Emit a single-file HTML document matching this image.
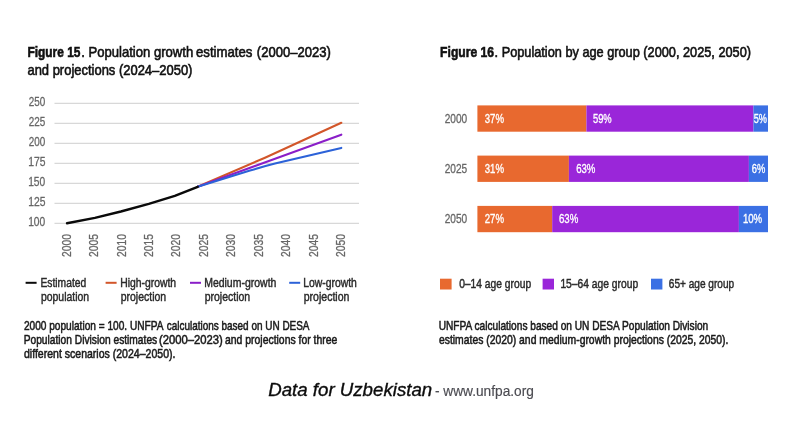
<!DOCTYPE html>
<html lang="en"><head><meta charset="utf-8"><title>Data for Uzbekistan</title>
<style>html,body{margin:0;padding:0;background:#fff}body{width:802px;height:422px;overflow:hidden}svg{display:block}text{font-family:"Liberation Sans",sans-serif}.t{font-size:14.4px;fill:#111;stroke:#111;stroke-width:.6px}.b{font-weight:700}.n{font-size:12.7px;fill:#1a1a1a;stroke:#1a1a1a;stroke-width:.55px}.l{font-size:12.7px;fill:#2a2a2a;stroke:#2a2a2a;stroke-width:.45px}.a{font-size:12.5px;fill:#666;stroke:#666;stroke-width:.3px}.w{font-size:12.6px;fill:#fff;stroke:#fff;stroke-width:.35px}.c1{font-size:18.4px;font-style:italic;fill:#0c0c0c;stroke:#0c0c0c;stroke-width:.35px}.c2{font-size:13.8px;fill:#4c4c52;stroke:#4c4c52;stroke-width:.15px}</style></head><body>
<svg width="802" height="422" viewBox="0 0 802 422">
<rect width="802" height="422" fill="#fff"/>
<line x1="54.5" x2="359" y1="103.4" y2="103.4" stroke="#d8d8d8" stroke-width="1.2"/>
<line x1="54.5" x2="359" y1="123.4" y2="123.4" stroke="#d8d8d8" stroke-width="1.2"/>
<line x1="54.5" x2="359" y1="143.4" y2="143.4" stroke="#d8d8d8" stroke-width="1.2"/>
<line x1="54.5" x2="359" y1="163.4" y2="163.4" stroke="#d8d8d8" stroke-width="1.2"/>
<line x1="54.5" x2="359" y1="183.4" y2="183.4" stroke="#d8d8d8" stroke-width="1.2"/>
<line x1="54.5" x2="359" y1="203.4" y2="203.4" stroke="#d8d8d8" stroke-width="1.2"/>
<line x1="54.5" x2="359" y1="223.4" y2="223.4" stroke="#d8d8d8" stroke-width="1.2"/>
<text class="a" textLength="22.9" lengthAdjust="spacingAndGlyphs" transform="translate(70.60,257) rotate(-90)">2000</text>
<text class="a" textLength="22.9" lengthAdjust="spacingAndGlyphs" transform="translate(98.06,257) rotate(-90)">2005</text>
<text class="a" textLength="22.9" lengthAdjust="spacingAndGlyphs" transform="translate(125.52,257) rotate(-90)">2010</text>
<text class="a" textLength="22.9" lengthAdjust="spacingAndGlyphs" transform="translate(152.98,257) rotate(-90)">2015</text>
<text class="a" textLength="22.9" lengthAdjust="spacingAndGlyphs" transform="translate(180.44,257) rotate(-90)">2020</text>
<text class="a" textLength="22.9" lengthAdjust="spacingAndGlyphs" transform="translate(207.90,257) rotate(-90)">2025</text>
<text class="a" textLength="22.9" lengthAdjust="spacingAndGlyphs" transform="translate(235.36,257) rotate(-90)">2030</text>
<text class="a" textLength="22.9" lengthAdjust="spacingAndGlyphs" transform="translate(262.82,257) rotate(-90)">2035</text>
<text class="a" textLength="22.9" lengthAdjust="spacingAndGlyphs" transform="translate(290.28,257) rotate(-90)">2040</text>
<text class="a" textLength="22.9" lengthAdjust="spacingAndGlyphs" transform="translate(317.74,257) rotate(-90)">2045</text>
<text class="a" textLength="22.9" lengthAdjust="spacingAndGlyphs" transform="translate(345.20,257) rotate(-90)">2050</text>
<path d="M197.7 186.8 L265 157.7 L341.3 122.8" stroke="#d2562a" fill="none" stroke-width="2.1" stroke-linecap="round" stroke-linejoin="round"/>
<path d="M197.7 186.8 L341.3 134.7" stroke="#8a1ec8" fill="none" stroke-width="2.1" stroke-linecap="round" stroke-linejoin="round"/>
<path d="M197.7 186.8 L250 170.6 Q262 166.9 275 163.6 L341.3 147.9" stroke="#2c62d8" fill="none" stroke-width="2.1" stroke-linecap="round" stroke-linejoin="round"/>
<path d="M67 223.3 L94.9 217.9 L120.9 211.5 L148.8 203.9 L174.8 195.9 L197.7 186.8" fill="none" stroke="#0a0a0a" stroke-width="2.4" stroke-linecap="round" stroke-linejoin="round"/>
<line x1="25.6" x2="36.6" y1="282.8" y2="282.8" stroke="#0a0a0a" stroke-width="2"/>
<line x1="105.6" x2="116.6" y1="282.8" y2="282.8" stroke="#d2562a" stroke-width="2"/>
<line x1="190" x2="201" y1="282.8" y2="282.8" stroke="#8a1ec8" stroke-width="2"/>
<line x1="289.2" x2="300.2" y1="282.8" y2="282.8" stroke="#2c62d8" stroke-width="2"/>
<rect x="477.4" y="105.4" width="109.0" height="26.3" fill="#e8692f"/>
<rect x="586.4" y="105.4" width="167.0" height="26.3" fill="#9a26d9"/>
<rect x="753.4" y="105.4" width="14.6" height="26.3" fill="#3b70e4"/>
<rect x="477.4" y="155.6" width="91.5" height="26.3" fill="#e8692f"/>
<rect x="568.9" y="155.6" width="180.0" height="26.3" fill="#9a26d9"/>
<rect x="748.9" y="155.6" width="19.1" height="26.3" fill="#3b70e4"/>
<rect x="477.4" y="205.9" width="74.8" height="26.3" fill="#e8692f"/>
<rect x="552.2" y="205.9" width="186.7" height="26.3" fill="#9a26d9"/>
<rect x="738.9" y="205.9" width="29.1" height="26.3" fill="#3b70e4"/>
<rect x="440" y="278.7" width="11.6" height="10.8" fill="#e8692f"/>
<rect x="542.6" y="278.7" width="11.4" height="10.8" fill="#9a26d9"/>
<rect x="651" y="278.7" width="11.4" height="10.8" fill="#3b70e4"/>
<text class="t b" x="27.4" y="57.1" textLength="53.0" lengthAdjust="spacingAndGlyphs">Figure 15</text>
<text class="t" x="81.2" y="57.1" textLength="112.0" lengthAdjust="spacingAndGlyphs">. Population growth</text>
<text class="t" x="195.95" y="57.1" textLength="56.5" lengthAdjust="spacingAndGlyphs">estimates</text>
<text class="t" x="256.8" y="57.1" textLength="74.0" lengthAdjust="spacingAndGlyphs">(2000–2023)</text>
<text class="t" x="27.45" y="75.2" textLength="165.0" lengthAdjust="spacingAndGlyphs">and projections (2024–2050)</text>
<text class="a" x="28.65" y="106.10000000000001" textLength="16.5" lengthAdjust="spacingAndGlyphs">250</text>
<text class="a" x="28.65" y="126.10000000000001" textLength="16.5" lengthAdjust="spacingAndGlyphs">225</text>
<text class="a" x="28.65" y="146.1" textLength="16.5" lengthAdjust="spacingAndGlyphs">200</text>
<text class="a" x="28.15" y="166.1" textLength="17.25" lengthAdjust="spacingAndGlyphs">175</text>
<text class="a" x="28.15" y="186.1" textLength="17.0" lengthAdjust="spacingAndGlyphs">150</text>
<text class="a" x="28.15" y="206.1" textLength="17.25" lengthAdjust="spacingAndGlyphs">125</text>
<text class="a" x="28.15" y="226.1" textLength="17.0" lengthAdjust="spacingAndGlyphs">100</text>
<text class="l" x="40.45" y="286.8" textLength="45.75" lengthAdjust="spacingAndGlyphs">Estimated</text>
<text class="l" x="40.9" y="300.6" textLength="48.25" lengthAdjust="spacingAndGlyphs">population</text>
<text class="l" x="120.15" y="286.8" textLength="56.0" lengthAdjust="spacingAndGlyphs">High-growth</text>
<text class="l" x="120.7" y="300.6" textLength="45.5" lengthAdjust="spacingAndGlyphs">projection</text>
<text class="l" x="204.15" y="286.8" textLength="72.25" lengthAdjust="spacingAndGlyphs">Medium-growth</text>
<text class="l" x="204.7" y="300.6" textLength="45.5" lengthAdjust="spacingAndGlyphs">projection</text>
<text class="l" x="303.15" y="286.8" textLength="53.75" lengthAdjust="spacingAndGlyphs">Low-growth</text>
<text class="l" x="303.7" y="300.6" textLength="45.75" lengthAdjust="spacingAndGlyphs">projection</text>
<text class="n" x="23.95" y="330.3" textLength="139.5" lengthAdjust="spacingAndGlyphs">2000 population = 100. UNFPA</text>
<text class="n" x="166.75" y="330.3" textLength="142.75" lengthAdjust="spacingAndGlyphs">calculations based on UN DESA</text>
<text class="n" x="23.7" y="344.1" textLength="133.5" lengthAdjust="spacingAndGlyphs">Population Division estimates</text>
<text class="n" x="159.0" y="344.1" textLength="63.75" lengthAdjust="spacingAndGlyphs">(2000–2023)</text>
<text class="n" x="225.05" y="344.1" textLength="112.25" lengthAdjust="spacingAndGlyphs">and projections for three</text>
<text class="n" x="23.95" y="357.6" textLength="151.5" lengthAdjust="spacingAndGlyphs">different scenarios (2024–2050).</text>
<text class="t b" x="440.1" y="56.7" textLength="54.0" lengthAdjust="spacingAndGlyphs">Figure 16</text>
<text class="t" x="494.55" y="56.7" textLength="256.5" lengthAdjust="spacingAndGlyphs">. Population by age group (2000, 2025, 2050)</text>
<text class="l" x="459.15" y="287.5" textLength="72.0" lengthAdjust="spacingAndGlyphs">0–14 age group</text>
<text class="l" x="560.4" y="287.5" textLength="77.75" lengthAdjust="spacingAndGlyphs">15–64 age group</text>
<text class="l" x="668.85" y="287.5" textLength="65.25" lengthAdjust="spacingAndGlyphs">65+ age group</text>
<text class="n" x="438.7" y="329.9" textLength="269.5" lengthAdjust="spacingAndGlyphs">UNFPA calculations based on UN DESA Population Division</text>
<text class="n" x="438.95" y="343.6" textLength="289.5" lengthAdjust="spacingAndGlyphs">estimates (2020) and medium-growth projections (2025, 2050).</text>
<text class="c1" x="268.2" y="396.2" textLength="164.0" lengthAdjust="spacingAndGlyphs">Data for Uzbekistan</text>
<text class="c2" x="434.9" y="396.0" textLength="99.0" lengthAdjust="spacingAndGlyphs">- www.unfpa.org</text>
<text class="a" x="444.75" y="122.5" textLength="22.5" lengthAdjust="spacingAndGlyphs">2000</text>
<text class="a" x="444.75" y="172.7" textLength="22.5" lengthAdjust="spacingAndGlyphs">2025</text>
<text class="a" x="444.75" y="223.0" textLength="22.5" lengthAdjust="spacingAndGlyphs">2050</text>
<text class="w" x="484.75" y="122.5" textLength="19.25" lengthAdjust="spacingAndGlyphs">37%</text>
<text class="w" x="484.75" y="172.7" textLength="19.25" lengthAdjust="spacingAndGlyphs">31%</text>
<text class="w" x="484.75" y="223.0" textLength="19.25" lengthAdjust="spacingAndGlyphs">27%</text>
<text class="w" x="592.95" y="122.5" textLength="18.75" lengthAdjust="spacingAndGlyphs">59%</text>
<text class="w" x="576.15" y="172.7" textLength="19.25" lengthAdjust="spacingAndGlyphs">63%</text>
<text class="w" x="558.95" y="223.0" textLength="19.25" lengthAdjust="spacingAndGlyphs">63%</text>
<text class="w" x="753.65" y="122.5" textLength="13.25" lengthAdjust="spacingAndGlyphs">5%</text>
<text class="w" x="751.85" y="172.7" textLength="13.5" lengthAdjust="spacingAndGlyphs">6%</text>
<text class="w" x="742.9" y="223.0" textLength="19.25" lengthAdjust="spacingAndGlyphs">10%</text>
</svg></body></html>
